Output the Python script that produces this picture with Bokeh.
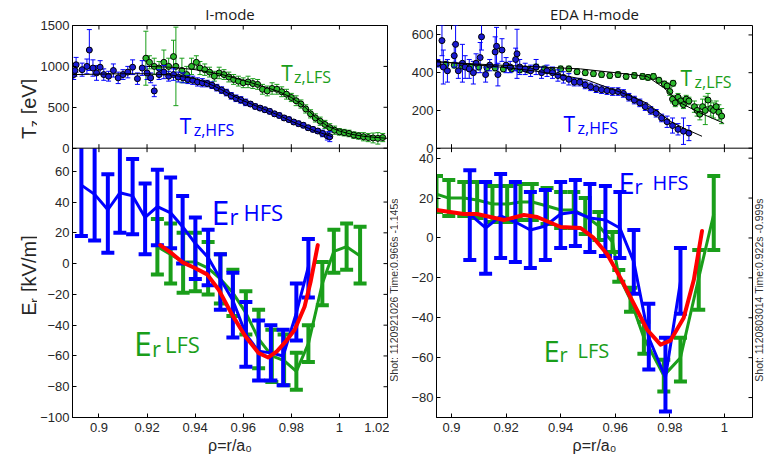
import math
from bokeh.plotting import figure
from bokeh.models import Range1d, LinearAxis, FixedTicker, Label, Span, ColumnDataSource
from bokeh.layouts import row
from bokeh.embed import file_html
from bokeh.resources import INLINE

# ===================== DATA: I-mode =====================
IM_TZ_HFS_RHO = [0.8895, 0.8900, 0.8905, 0.8930, 0.8950, 0.8960, 0.8975, 0.8990, 0.9005, 0.9020,
                 0.9040, 0.9060, 0.9080, 0.9100, 0.9120, 0.9140, 0.9160, 0.9180, 0.9200, 0.9215,
                 0.9230, 0.9250, 0.9270, 0.9290, 0.9310, 0.9330, 0.9350, 0.9370, 0.9390, 0.9410,
                 0.9430, 0.9450, 0.9470, 0.9490, 0.9510, 0.9530, 0.9550, 0.9570, 0.9590, 0.9610,
                 0.9630, 0.9650, 0.9670, 0.9690, 0.9710, 0.9730, 0.9750, 0.9770, 0.9790, 0.9810,
                 0.9830, 0.9850, 0.9870, 0.9890, 0.9910, 0.9930, 0.9950, 0.9960]
IM_TZ_HFS = [900, 950, 1020, 960, 1000, 1200, 980, 920, 990, 900,
             880, 950, 860, 900, 930, 990, 850, 980, 920, 860,
             700, 900, 930, 880, 900, 870, 860, 840, 830, 810,
             800, 790, 770, 740, 710, 680, 640, 610, 590, 560,
             540, 510, 490, 470, 450, 420, 400, 370, 350, 320,
             300, 280, 250, 230, 210, 180, 150, 140]
IM_TZ_HFS_ERR = [60, 70, 90, 80, 90, 250, 100, 90, 80, 70,
                 60, 80, 70, 60, 70, 90, 70, 90, 80, 60,
                 70, 60, 80, 60, 70, 60, 60, 50, 50, 50,
                 50, 40, 40, 40, 40, 40, 40, 40, 40, 40,
                 30, 30, 30, 30, 30, 30, 30, 30, 30, 30,
                 30, 30, 30, 30, 30, 40, 50, 60]

IM_TZ_LFS_RHO = [0.9195, 0.9210, 0.9230, 0.9250, 0.9270, 0.9290, 0.9310, 0.9320, 0.9345, 0.9365,
                 0.9385, 0.9405, 0.9420, 0.9440, 0.9460, 0.9480, 0.9500, 0.9520, 0.9540, 0.9560,
                 0.9580, 0.9600, 0.9620, 0.9640, 0.9660, 0.9680, 0.9700, 0.9720, 0.9740, 0.9760,
                 0.9780, 0.9800, 0.9820, 0.9840, 0.9860, 0.9880, 0.9900, 0.9920, 0.9940, 0.9960,
                 0.9980, 1.0000, 1.0020, 1.0040, 1.0060, 1.0080, 1.0100, 1.0120, 1.0140, 1.0160,
                 1.0180]
IM_TZ_LFS = [1100, 1050, 1000, 980, 1050, 1000, 1120, 1000, 950, 900,
             1000, 1050, 980, 960, 930, 880, 920, 900, 870, 840,
             820, 800, 810, 790, 780, 720, 700, 730, 720, 690,
             660, 620, 580, 540, 480, 420, 370, 330, 290, 250,
             220, 200, 190, 180, 160, 150, 140, 130, 125, 120,
             130]
IM_TZ_LFS_ERR = [330, 80, 100, 80, 150, 100, 200, 480, 150, 100,
                 100, 80, 80, 70, 60, 60, 70, 60, 60, 60,
                 60, 60, 70, 60, 60, 60, 60, 70, 60, 60,
                 60, 50, 60, 50, 50, 50, 50, 50, 50, 50,
                 50, 40, 40, 40, 40, 40, 50, 50, 60, 70,
                 50]

IM_FIT_HFS_RHO = [0.889, 0.900, 0.910, 0.920, 0.930, 0.940, 0.945, 0.950, 0.955, 0.960,
                  0.965, 0.970, 0.975, 0.980, 0.985, 0.990, 0.997]
IM_FIT_HFS = [900, 905, 910, 910, 895, 850, 800, 730, 650, 580, 520, 460, 400, 330, 270, 210, 140]
IM_FIT_LFS_RHO = [0.920, 0.930, 0.940, 0.950, 0.960, 0.970, 0.975, 0.980, 0.985, 0.990,
                  0.995, 1.000, 1.005, 1.010, 1.020]
IM_FIT_LFS = [1000, 990, 960, 910, 830, 740, 690, 620, 520, 380, 270, 210, 170, 145, 120]

IM_ER_HFS_RHO = [0.8927, 0.8982, 0.9037, 0.9087, 0.9140, 0.9192, 0.9243, 0.9298, 0.9348, 0.9401,
                 0.9454, 0.9505, 0.9557, 0.9611, 0.9664, 0.9715, 0.9766, 0.9821, 0.9871]
IM_ER_HFS = [51, 45, 35, 46, 44, 30, 37, 33, 24, 13, 4, -10, -24, -46, -57, -58, -60, -32, -2]
IM_ER_HFS_LO = [18, 15, 7, 20, 19, 6, 12, 10, 0, -10, -14, -30, -48, -67, -76, -76, -79, -50, -22]
IM_ER_HFS_HI = [75, 75, 58, 75, 68, 52, 61, 56, 44, 30, 22, 6, -6, -25, -37, -40, -43, -13, 16]

IM_ER_LFS_RHO = [0.9243, 0.9298, 0.9350, 0.9401, 0.9454, 0.9505, 0.9557, 0.9611, 0.9664, 0.9719,
                 0.9770, 0.9821, 0.9871, 0.9929, 0.9977, 1.0030, 1.0086]
IM_ER_LFS = [11, 6, 1, 1, -3, -10, -19, -32, -49, -60, -63, -70, -52, -13, 8, 11, 5]
IM_ER_LFS_LO = [-7, -13, -19, -18, -20, -26, -34, -46, -68, -77, -79, -82, -64, -27, -6, -4, -13]
IM_ER_LFS_HI = [29, 26, 20, 20, 14, 6, -4, -18, -30, -43, -46, -58, -40, 1, 22, 26, 24]

IM_ER_FIT_RHO = [0.9255, 0.9300, 0.9346, 0.9401, 0.9450, 0.9498, 0.9553, 0.9608, 0.9663, 0.9704,
                 0.9740, 0.9780, 0.9814, 0.9855, 0.9880, 0.9910]
IM_ER_FIT = [12, 7, 1, -3, -7, -17, -33, -47, -58, -61, -57, -50, -43, -28, -12, 12]

# ===================== DATA: EDA H-mode =====================
HM_TZ_HFS_RHO = [0.8950, 0.8965, 0.8970, 0.8985, 0.9010, 0.9015, 0.9025, 0.9040, 0.9050, 0.9065,
                 0.9080, 0.9090, 0.9105, 0.9110, 0.9125, 0.9140, 0.9160, 0.9165, 0.9170, 0.9185,
                 0.9200, 0.9215, 0.9235, 0.9240, 0.9250, 0.9270, 0.9290, 0.9310, 0.9330, 0.9350,
                 0.9370, 0.9390, 0.9410, 0.9430, 0.9450, 0.9470, 0.9490, 0.9510, 0.9530, 0.9550,
                 0.9570, 0.9590, 0.9610, 0.9630, 0.9650, 0.9670, 0.9690, 0.9710, 0.9730, 0.9750,
                 0.9770, 0.9790, 0.9810, 0.9830, 0.9850, 0.9870]
HM_TZ_HFS = [450, 570, 430, 410, 490, 550, 410, 450, 430, 420,
             400, 450, 480, 590, 390, 440, 510, 540, 390, 520,
             440, 430, 470, 500, 430, 420, 410, 430, 400, 410,
             400, 385, 375, 365, 350, 350, 335, 325, 315, 310,
             305, 300, 300, 290, 270, 255, 240, 220, 200, 185,
             160, 140, 120, 100, 90, 80]
HM_TZ_HFS_ERR = [20, 80, 90, 60, 60, 100, 40, 100, 60, 50,
                 60, 50, 80, 70, 40, 30, 80, 100, 60, 60,
                 40, 30, 60, 130, 40, 30, 30, 40, 30, 30,
                 30, 30, 30, 30, 20, 20, 20, 20, 20, 20,
                 20, 20, 20, 20, 20, 20, 20, 20, 20, 20,
                 20, 30, 40, 30, 70, 40]

HM_TZ_LFS_RHO = [0.8950, 0.8980, 0.9010, 0.9040, 0.9070, 0.9100, 0.9130, 0.9160, 0.9190, 0.9220,
                 0.9250, 0.9280, 0.9310, 0.9340, 0.9370, 0.9400, 0.9430, 0.9460, 0.9490, 0.9520,
                 0.9550, 0.9580, 0.9610, 0.9640, 0.9670, 0.9700, 0.9720, 0.9740, 0.9760, 0.9780,
                 0.9790, 0.9800, 0.9810, 0.9812, 0.9820, 0.9830, 0.9840, 0.9850, 0.9860, 0.9870,
                 0.9890, 0.9900, 0.9910, 0.9920, 0.9930, 0.9940, 0.9950, 0.9960, 0.9970, 0.9980,
                 0.9990]
HM_TZ_LFS = [450, 445, 440, 435, 430, 430, 425, 425, 420, 420,
             415, 415, 430, 420, 410, 420, 420, 405, 400, 395,
             390, 385, 390, 380, 385, 380, 375, 380, 360, 340,
             330, 300, 260, 344, 240, 270, 250, 230, 260, 250,
             220, 200, 180, 220, 200, 255, 210, 200, 220, 190,
             170]
HM_TZ_LFS_ERR = [15, 15, 15, 15, 15, 15, 15, 15, 15, 15,
                 15, 15, 15, 15, 15, 15, 15, 15, 15, 15,
                 15, 15, 15, 15, 15, 15, 15, 15, 15, 15,
                 15, 20, 20, 15, 20, 20, 20, 20, 20, 20,
                 30, 30, 30, 40, 75, 35, 40, 40, 30, 40,
                 40]

HM_FIT_HFS_RHO = [0.8945, 0.900, 0.910, 0.920, 0.930, 0.940, 0.950, 0.9595, 0.965, 0.9717,
                  0.9802, 0.9860, 0.9918]
HM_FIT_HFS = [458, 452, 440, 427, 410, 388, 360, 309, 280, 238, 142, 100, 63]
HM_FIT_LFS_RHO = [0.8945, 0.910, 0.930, 0.9473, 0.960, 0.9717, 0.9778, 0.9839, 0.9912, 0.9997]
HM_FIT_LFS = [458, 445, 432, 420, 400, 380, 320, 240, 186, 133]

HM_ER_HFS_RHO = [0.9067, 0.9125, 0.9180, 0.9234, 0.9289, 0.9344, 0.9400, 0.9454, 0.9507, 0.9564,
                 0.9617, 0.9668, 0.9723, 0.9784, 0.9839]
HM_ER_HFS = [12, 5, 11, 8, 4, 6, 12, 13, 10, 9, 5, -12, -50, -70, -22]
HM_ER_HFS_LO = [-11, -18, -10, -12, -15, -11, -5, -4, -7, -9, -10, -28, -66, -87, -38]
HM_ER_HFS_HI = [34, 28, 32, 28, 23, 24, 28, 29, 27, 26, 23, 4, -33, -50, -5]

HM_ER_LFS_RHO = [0.8945, 0.8990, 0.9045, 0.9094, 0.9150, 0.9204, 0.9253, 0.9296, 0.9350, 0.9400,
                 0.9448, 0.9490, 0.9540, 0.9590, 0.9613, 0.9656, 0.9705, 0.9778, 0.9839, 0.9906,
                 0.9961]
HM_ER_LFS = [22, 20, 20, 19, 17, 17, 18, 18, 16, 14, 14, 11, 6, -2, -19, -31, -50, -69, -60, -20, 12]
HM_ER_LFS_LO = [13, 11, 11, 10, 8, 8, 9, 9, 7, 5, 5, 2, -1, -7, -22, -37, -58, -77, -72, -36, -6]
HM_ER_LFS_HI = [31, 29, 28, 28, 26, 26, 27, 27, 25, 23, 23, 20, 13, 3, -16, -25, -42, -61, -50, -6, 31]

HM_ER_FIT_RHO = [0.8945, 0.9045, 0.9093, 0.9192, 0.9265, 0.9314, 0.9400, 0.9473, 0.9521, 0.9570,
                 0.9619, 0.9668, 0.9717, 0.9766, 0.9802, 0.9851, 0.9888, 0.9918]
HM_ER_FIT = [14, 12, 12, 9, 11.5, 10.5, 5.5, 5, 0, -8, -20, -33, -46, -53.5, -51.5, -40, -21, 3.5]

# ===================== TICKS / TEXT =====================
IM_X_TICKS = [0.90, 0.92, 0.94, 0.96, 0.98, 1.00, 1.02]
IM_X_LABELS = ["0.9", "0.92", "0.94", "0.96", "0.98", "1", "1.02"]
HM_X_TICKS = [0.90, 0.92, 0.94, 0.96, 0.98, 1.00]
HM_X_LABELS = ["0.9", "0.92", "0.94", "0.96", "0.98", "1"]
IM_ER_TICKS = [-100, -80, -60, -40, -20, 0, 20, 40, 60]
IM_ER_LABELS = ["\u2212100", "\u221280", "\u221260", "\u221240", "\u221220", "0", "20", "40", "60"]
HM_ER_TICKS = [-80, -60, -40, -20, 0, 20, 40]
HM_ER_LABELS = ["\u221280", "\u221260", "\u221240", "\u221220", "0", "20", "40"]
IM_TZ_TICKS = [0, 500, 1000, 1500]
IM_TZ_LABELS = ["0", "500", "1000", "1500"]
HM_TZ_TICKS = [0, 200, 400, 600]
HM_TZ_LABELS = ["0", "200", "400", "600"]
X_TITLE = "\u03c1=r/a\u2080"
IM_SHOT = "Shot: 1120921026    Time:0.966s -1.145s"
HM_SHOT = "Shot: 1120803014    Time:0.922s -0.999s"

# ===================== STYLE =====================
BLUE = "#0000ff"
GREEN = "#1a9e1a"
GREEN_FILL = "#2cb82c"
BLUE_FILL = "#1a1ad0"
RED = "#ff0000"
TICK_FONT = "Liberation Sans"
ANN_FONT = "Open Sans"
TEXT = "#262626"

H = 459
FRAME_TOP = 24
SEP = 147
FRAME_BOT = 417


def style_axis(ax, standoff):
    ax.major_tick_in = 4
    ax.major_tick_out = 0
    ax.minor_tick_in = 0
    ax.minor_tick_out = 0
    ax.axis_line_color = "black"
    ax.major_tick_line_color = "black"
    ax.major_label_text_font = TICK_FONT
    ax.major_label_text_color = TEXT
    ax.major_label_text_font_size = "13px"
    ax.major_label_standoff = standoff


def build(cfg):
    x0, x1 = cfg["xr"]
    er_lo, er_top = cfg["er"]
    er_per_px = (er_top - er_lo) / (FRAME_BOT - SEP)
    er_end = er_top + (SEP - FRAME_TOP) * er_per_px
    tz_max = cfg["tz_max"]
    tz_start = -tz_max * (FRAME_BOT - SEP) / (SEP - FRAME_TOP)
    fl, fw, wl, W = cfg["frame_left"], cfg["frame_w"], cfg["win_left"], cfg["width"]

    p = figure(width=W, height=H, x_range=Range1d(x0, x1), y_range=Range1d(er_lo, er_end),
               x_axis_location=None, y_axis_location=None, toolbar_location=None,
               output_backend="svg", title=cfg["title"],
               min_border_left=fl - wl, min_border_right=W - (fl - wl) - fw,
               min_border_top=FRAME_TOP, min_border_bottom=H - FRAME_BOT)
    p.title.align = "center"
    p.title.text_font = ANN_FONT
    p.title.text_font_size = "15px"
    p.title.text_font_style = "normal"
    p.title.text_color = "#1a1a1a"
    p.title.standoff = 3
    p.extra_y_ranges = {"tz": Range1d(tz_start, tz_max)}
    p.grid.visible = False
    p.outline_line_color = "black"
    p.outline_line_width = 1
    p.background_fill_color = "white"
    p.border_fill_color = "white"

    def wx(px):
        return x0 + (px - fl) * (x1 - x0) / fw

    def wy(py):
        return er_top - (py - SEP) * er_per_px

    def tz2er(t):
        return er_top + t * (er_end - er_top) / tz_max

    yt = list(cfg["er_ticks"]) + [tz2er(t) for t in cfg["tz_ticks"]]
    yl = list(cfg["er_labels"]) + list(cfg["tz_labels"])
    yax = LinearAxis(ticker=FixedTicker(ticks=yt), major_label_overrides=dict(zip(yt, yl)))
    style_axis(yax, 3)
    p.add_layout(yax, "left")
    xax = LinearAxis(ticker=FixedTicker(ticks=cfg["x_ticks"]),
                     major_label_overrides=dict(zip(cfg["x_ticks"], cfg["x_labels"])))
    style_axis(xax, 5)
    xax.axis_label = X_TITLE
    xax.axis_label_text_font = TICK_FONT
    xax.axis_label_text_font_size = "16px"
    xax.axis_label_text_font_style = "normal"
    xax.axis_label_text_color = TEXT
    xax.axis_label_standoff = 2
    p.add_layout(xax, "below")

    p.add_layout(Span(location=er_top, dimension="width", line_color="black", line_width=1))

    # mirrored (box) tick marks: half of each dash is clipped by the frame edge
    xt = list(cfg["x_ticks"])
    p.scatter([x1] * len(yt), yt, marker="dash", size=8, line_color="black", line_width=1)
    p.scatter(xt, [er_end] * len(xt), marker="dash", angle=math.pi / 2, size=8,
              line_color="black", line_width=1)
    p.scatter(xt, [er_top] * len(xt), marker="dash", angle=math.pi / 2, size=8,
              line_color="black", line_width=1)

    # ---- Tz panel ----
    def tz_series(rho, val, err, color, fill):
        lo = [v - e for v, e in zip(val, err)]
        hi = [v + e for v, e in zip(val, err)]
        src = ColumnDataSource(dict(x=rho, y=val, lo=lo, hi=hi))
        p.segment(x0="x", y0="lo", x1="x", y1="hi", source=src, line_color=color, line_width=1,
                  y_range_name="tz")
        p.scatter(x="x", y="lo", marker="dash", size=5, line_color=color, line_width=1, source=src,
                  y_range_name="tz")
        p.scatter(x="x", y="hi", marker="dash", size=5, line_color=color, line_width=1, source=src,
                  y_range_name="tz")
        p.scatter(x="x", y="y", marker="circle", size=6, fill_color=fill, line_color="black",
                  line_width=1, source=src, y_range_name="tz")

    tz_series(cfg["tz_lfs"][0], cfg["tz_lfs"][1], cfg["tz_lfs"][2], GREEN, GREEN_FILL)
    tz_series(cfg["tz_hfs"][0], cfg["tz_hfs"][1], cfg["tz_hfs"][2], BLUE, BLUE_FILL)
    p.line(cfg["fit_hfs"][0], cfg["fit_hfs"][1], line_color="black", line_width=1, y_range_name="tz")
    p.line(cfg["fit_lfs"][0], cfg["fit_lfs"][1], line_color="black", line_width=1, y_range_name="tz")

    # ---- Er panel ----
    def er_series(rho, val, lo, hi, color):
        src = ColumnDataSource(dict(x=rho, y=val, lo=lo, hi=hi))
        p.segment(x0="x", y0="lo", x1="x", y1="hi", source=src, line_color=color, line_width=4)
        p.scatter(x="x", y="lo", marker="dash", size=13, line_color=color, line_width=4, source=src)
        capx = [r for r, h in zip(rho, hi) if h < er_top]
        capy = [h for h in hi if h < er_top]
        p.scatter(capx, capy, marker="dash", size=13, line_color=color, line_width=4)
        p.line(x="x", y="y", source=src, line_color=color, line_width=3)

    er_series(*cfg["er_lfs"], GREEN)
    er_series(*cfg["er_hfs"], BLUE)
    p.line(cfg["er_fit"][0], cfg["er_fit"][1], line_color=RED, line_width=4,
           line_join="round", line_cap="round")

    for it in cfg["labels"]:
        p.add_layout(Label(x=wx(it["px"]), y=wy(it["py"]), text=it["text"], text_font=ANN_FONT,
                           text_font_size=f"{it['size']}px", text_color=it["color"],
                           text_align="left", text_baseline="alphabetic"))
    return p


def strip(width, win_left, labels):
    s = figure(width=width, height=H, x_range=Range1d(0, width), y_range=Range1d(H, 0),
               x_axis_location=None, y_axis_location=None, toolbar_location=None,
               output_backend="svg", title=None,
               min_border_left=0, min_border_right=0, min_border_top=0, min_border_bottom=0)
    s.grid.visible = False
    s.outline_line_color = None
    s.background_fill_color = "white"
    s.border_fill_color = "white"
    for it in labels:
        s.add_layout(Label(x=it["px"] - win_left, y=it["py"], text=it["text"],
                           text_font=it.get("font", TICK_FONT), text_font_size=f"{it['size']}px",
                           text_color=it.get("color", TEXT), text_align="left",
                           text_baseline=it.get("baseline", "alphabetic"), angle=math.pi / 2))
    return s


IM_LABELS = [
    dict(px=280, py=72, text="T", size=21, color=GREEN),
    dict(px=293, py=75.5, text="z,LFS", size=16, color=GREEN),
    dict(px=178, py=125, text="T", size=21, color=BLUE),
    dict(px=192, py=128.5, text="z,HFS", size=16, color=BLUE),
    dict(px=210, py=211, text="E", size=32, color=BLUE),
    dict(px=228, py=215, text="r", size=22, color=BLUE),
    dict(px=242, py=211, text="HFS", size=22, color=BLUE),
    dict(px=132, py=343, text="E", size=32, color=GREEN),
    dict(px=150, py=347, text="r", size=22, color=GREEN),
    dict(px=163, py=343, text="LFS", size=22, color=GREEN),
]
HM_LABELS = [
    dict(px=680, py=77, text="T", size=21, color=GREEN),
    dict(px=694, py=80.5, text="z,LFS", size=16, color=GREEN),
    dict(px=563, py=123, text="T", size=21, color=BLUE),
    dict(px=577, py=126.5, text="z,HFS", size=16, color=BLUE),
    dict(px=618, py=181, text="E", size=29, color=BLUE),
    dict(px=634, py=185, text="r", size=20, color=BLUE),
    dict(px=652, py=181, text="HFS", size=20, color=BLUE),
    dict(px=543, py=350, text="E", size=29, color=GREEN),
    dict(px=559, py=354, text="r", size=20, color=GREEN),
    dict(px=577, py=350, text="LFS", size=20, color=GREEN),
]
YLAB = [
    dict(px=28, py=133, text="T", size=20),
    dict(px=34, py=119, text="z", size=14),
    dict(px=28, py=104, text="[eV]", size=20),
    dict(px=28, py=340, text="E", size=20),
    dict(px=34, py=325, text="r", size=14),
    dict(px=28, py=312, text="[kV/m]", size=20),
]

strip_l = strip(37, 0, YLAB)
left = build(dict(
    title="I-mode",
    xr=(0.889, 1.02), er=(-100, 75), tz_max=1500,
    frame_left=70, frame_w=317, win_left=37, width=352,
    x_ticks=IM_X_TICKS, x_labels=IM_X_LABELS,
    er_ticks=IM_ER_TICKS, er_labels=IM_ER_LABELS,
    tz_ticks=IM_TZ_TICKS, tz_labels=IM_TZ_LABELS,
    tz_hfs=(IM_TZ_HFS_RHO, IM_TZ_HFS, IM_TZ_HFS_ERR),
    tz_lfs=(IM_TZ_LFS_RHO, IM_TZ_LFS, IM_TZ_LFS_ERR),
    fit_hfs=(IM_FIT_HFS_RHO, IM_FIT_HFS), fit_lfs=(IM_FIT_LFS_RHO, IM_FIT_LFS),
    er_hfs=(IM_ER_HFS_RHO, IM_ER_HFS, IM_ER_HFS_LO, IM_ER_HFS_HI),
    er_lfs=(IM_ER_LFS_RHO, IM_ER_LFS, IM_ER_LFS_LO, IM_ER_LFS_HI),
    er_fit=(IM_ER_FIT_RHO, IM_ER_FIT),
    labels=IM_LABELS,
))
strip_m = strip(9, 389, [dict(px=393.5, py=417, text=IM_SHOT, size=10.5, color="#333333",
                              baseline="middle")])
right = build(dict(
    title="EDA H-mode",
    xr=(0.8945, 1.0103), er=(-90, 45), tz_max=650,
    frame_left=436, frame_w=316, win_left=398, width=356,
    x_ticks=HM_X_TICKS, x_labels=HM_X_LABELS,
    er_ticks=HM_ER_TICKS, er_labels=HM_ER_LABELS,
    tz_ticks=HM_TZ_TICKS, tz_labels=HM_TZ_LABELS,
    tz_hfs=(HM_TZ_HFS_RHO, HM_TZ_HFS, HM_TZ_HFS_ERR),
    tz_lfs=(HM_TZ_LFS_RHO, HM_TZ_LFS, HM_TZ_LFS_ERR),
    fit_hfs=(HM_FIT_HFS_RHO, HM_FIT_HFS), fit_lfs=(HM_FIT_LFS_RHO, HM_FIT_LFS),
    er_hfs=(HM_ER_HFS_RHO, HM_ER_HFS, HM_ER_HFS_LO, HM_ER_HFS_HI),
    er_lfs=(HM_ER_LFS_RHO, HM_ER_LFS, HM_ER_LFS_LO, HM_ER_LFS_HI),
    er_fit=(HM_ER_FIT_RHO, HM_ER_FIT),
    labels=HM_LABELS,
))
strip_r = strip(12, 754, [dict(px=758.5, py=417, text=HM_SHOT, size=10.5, color="#333333",
                               baseline="middle")])

layout = row(strip_l, left, strip_m, right, strip_r)
open("out.html", "w").write(file_html(layout, INLINE))
